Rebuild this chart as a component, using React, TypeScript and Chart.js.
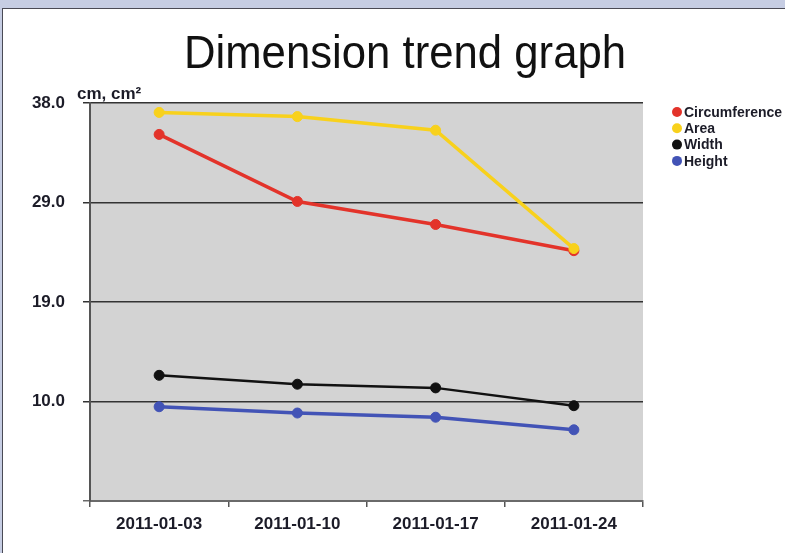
import React, { useEffect, useRef } from "react";
import { Chart, registerables } from "chart.js";

Chart.register(...registerables);

const categories = ["2011-01-03", "2011-01-10", "2011-01-17", "2011-01-24"];
const circumference = [35.0, 28.6, 26.4, 23.9];
const area = [37.1, 36.7, 35.4, 24.1];
const width = [12.0, 11.15, 10.8, 9.1];
const height = [9.0, 8.4, 8.0, 6.8];
const yTickValues = [0, 9.5, 19, 28.5, 38];
const yTickLabels = ["", "10.0", "19.0", "29.0", "38.0"];
const seriesNames = ["Circumference", "Area", "Width", "Height"];
const seriesColors = ["#e3332a", "#f8d11c", "#111111", "#4253b6"];
const titleText = "Dimension trend graph";
const unitText = "cm, cm²";

const FONT = "'Liberation Sans', Arial, sans-serif";

const decorPlugin = {
  id: "decor",
  beforeDraw(chart: any) {
    const { ctx, chartArea } = chart;
    ctx.save();
    ctx.fillStyle = "#d3d3d3";
    ctx.fillRect(chartArea.left, chartArea.top, chartArea.right - chartArea.left, chartArea.bottom - chartArea.top);
    ctx.restore();
  },
  afterDraw(chart: any) {
    const { ctx, chartArea } = chart;
    ctx.save();
    ctx.fillStyle = "#111";
    ctx.font = `47px ${FONT}`;
    ctx.textAlign = "center";
    ctx.textBaseline = "alphabetic";
    ctx.translate(405, 68);
    ctx.scale(0.93, 1);
    ctx.fillText(titleText, 0, 0);
    ctx.restore();

    ctx.save();
    ctx.fillStyle = "#1c1c28";
    ctx.font = `bold 17px ${FONT}`;
    ctx.textAlign = "left";
    ctx.fillText(unitText, 77, 99);

    ctx.font = `bold 14px ${FONT}`;
    ctx.textBaseline = "middle";
    const lx = chartArea.right + 34;
    seriesNames.forEach((name, i) => {
      const y = 112 + i * 16.3;
      ctx.beginPath();
      ctx.fillStyle = seriesColors[i];
      ctx.arc(lx, y, 5, 0, Math.PI * 2);
      ctx.fill();
      ctx.fillStyle = "#1c1c28";
      ctx.fillText(name, lx + 7, y + 1);
    });
    ctx.restore();
  },
};

export default function App() {
  const canvasRef = useRef<HTMLCanvasElement | null>(null);

  useEffect(() => {
    const canvas = canvasRef.current;
    if (!canvas) return;
    const mk = (label: string, data: number[], idx: number, order: number, bw: number) => ({
      label,
      data,
      borderColor: seriesColors[idx],
      backgroundColor: seriesColors[idx],
      pointBackgroundColor: seriesColors[idx],
      pointBorderColor: seriesColors[idx],
      borderWidth: bw,
      pointRadius: 5,
      pointBorderWidth: 1,
      tension: 0,
      order,
    });
    const chart = new Chart(canvas, {
      type: "line",
      data: {
        labels: categories,
        datasets: [
          mk(seriesNames[0], circumference, 0, 1, 3.5),
          mk(seriesNames[1], area, 1, 0, 3.5),
          mk(seriesNames[2], width, 2, 2, 2.5),
          mk(seriesNames[3], height, 3, 3, 3.5),
        ],
      },
      options: {
        animation: false,
        responsive: false,
        devicePixelRatio: 1,
        layout: { padding: { top: 103, right: 142, bottom: 0, left: 0 } },
        plugins: {
          legend: { display: false },
          title: { display: false },
          tooltip: { enabled: false },
        },
        scales: {
          x: {
            type: "category",
            offset: true,
            grid: {
              offset: true,
              drawOnChartArea: false,
              drawTicks: true,
              tickLength: 6,
              color: "#555",
              lineWidth: 1.5,
            },
            border: { display: true, color: "#6a6a6a", width: 2 },
            ticks: {
              color: "#1c1c28",
              font: { family: FONT, size: 17, weight: "bold" },
              padding: 7,
              maxRotation: 0,
            },
            afterFit: (s: any) => {
              s.height = 52;
            },
          },
          y: {
            min: 0,
            max: 38,
            afterBuildTicks: (s: any) => {
              s.ticks = yTickValues.map((v) => ({ value: v }));
            },
            grid: {
              color: (c: any) => (c.tick && c.tick.value === 0 ? "#6a6a6a" : "#333"),
              lineWidth: 1.5,
              tickLength: 7,
            },
            border: { display: true, color: "#555", width: 2 },
            ticks: {
              color: "#1c1c28",
              font: { family: FONT, size: 17, weight: "bold" },
              padding: 18,
              callback: (v: any) => {
                const i = yTickValues.indexOf(Number(v));
                return i >= 0 ? yTickLabels[i] : "";
              },
            },
            afterFit: (s: any) => {
              s.width = 90;
            },
          },
        },
      },
      plugins: [decorPlugin],
    } as any);
    return () => chart.destroy();
  }, []);

  return (
    <div style={{ position: "fixed", left: 0, top: 0, width: 785, height: 553, background: "#c6cde3", overflow: "hidden" }}>
      <div
        style={{
          position: "absolute",
          left: 2,
          top: 8,
          width: 820,
          height: 600,
          background: "#ffffff",
          border: "1px solid #4a4a55",
        }}
      />
      <canvas ref={canvasRef} width={785} height={553} style={{ position: "absolute", left: 0, top: 0, width: 785, height: 553 }} />
    </div>
  );
}
